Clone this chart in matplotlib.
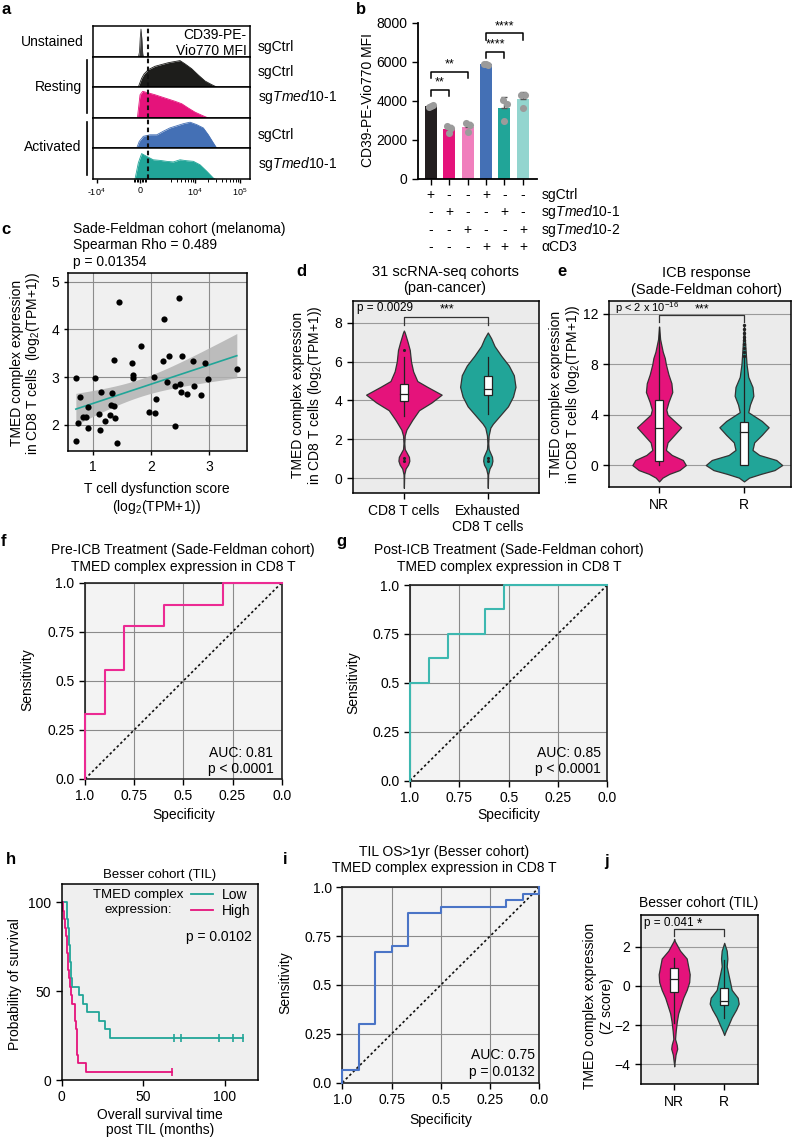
import numpy as np
import matplotlib
matplotlib.use('Agg')
import matplotlib.pyplot as plt
from matplotlib.lines import Line2D
from matplotlib.patches import Rectangle

plt.rcParams['font.family'] = ['Liberation Sans', 'DejaVu Sans']
plt.rcParams['font.size'] = 10
plt.rcParams['mathtext.fontset'] = 'custom'
plt.rcParams['mathtext.rm'] = 'Liberation Sans'
plt.rcParams['mathtext.it'] = 'Liberation Sans:italic'
plt.rcParams['mathtext.bf'] = 'Liberation Sans:bold'
plt.rcParams['axes.linewidth'] = 1.0
plt.rcParams['xtick.major.size'] = 3
plt.rcParams['ytick.major.size'] = 3
plt.rcParams['xtick.major.width'] = 1.0
plt.rcParams['ytick.major.width'] = 1.0

# ---------------- data ----------------
# a: flow histograms (channel units 0-1000, normalised height)
unst_x = [290, 297, 302, 307, 312, 318, 322]
unst_y = [0.0, 0.15, 0.6, 0.9, 0.6, 0.1, 0.0]
rest_ctrl_x = [290, 311, 326, 354, 396, 438, 481, 523, 555, 587, 629, 671, 714, 756, 788]
rest_ctrl_y = [0.0, 0.29, 0.43, 0.58, 0.69, 0.75, 0.81, 0.85, 0.88, 0.77, 0.61, 0.40, 0.20, 0.08, 0.0]
rest_tmed_x = [284, 301, 318, 354, 396, 438, 481, 523, 566, 608, 650, 693, 735]
rest_tmed_y = [0.0, 0.75, 0.86, 0.81, 0.75, 0.68, 0.61, 0.54, 0.46, 0.32, 0.19, 0.09, 0.0]
act_ctrl_x = [280, 296, 322, 364, 407, 449, 491, 534, 576, 619, 661, 703, 735, 767, 788]
act_ctrl_y = [0.0, 0.22, 0.39, 0.44, 0.44, 0.56, 0.67, 0.74, 0.81, 0.86, 0.78, 0.67, 0.44, 0.17, 0.0]
act_tmed_x = [269, 290, 311, 343, 385, 428, 470, 512, 555, 597, 640, 682, 725, 767, 778]
act_tmed_y = [0.0, 0.52, 0.82, 0.73, 0.62, 0.60, 0.57, 0.55, 0.62, 0.59, 0.57, 0.46, 0.25, 0.03, 0.0]
a_left = ['Unstained', 'Resting', 'Activated']
a_right = ['sgCtrl', 'sgCtrl', r'sg$\mathit{Tmed10}$-1', 'sgCtrl', r'sg$\mathit{Tmed10}$-1']
a_ticks = [25, 301, 650, 936]
a_ticklabels = ['-10$^4$', '0', '10$^4$', '10$^5$']
a_gate = 350

# b: CD39 MFI bars
b_points = [[3700, 3790, 3740], [2710, 2630, 2370], [2850, 2760, 2420],
            [5900, 5830, 5870], [4040, 3840, 2990], [4300, 4300, 3620]]
b_rows = ['sgCtrl', r'sg$\mathit{Tmed10}$-1', r'sg$\mathit{Tmed10}$-2', 'αCD3']
b_signs = [['+', '-', '-', '+', '-', '-'],
           ['-', '+', '-', '-', '+', '-'],
           ['-', '-', '+', '-', '-', '+'],
           ['-', '-', '-', '+', '+', '+']]
b_sig = [(0, 1, 4550, '**'), (0, 2, 5500, '**'), (3, 4, 6520, '****'), (3, 5, 7460, '****')]

# c: scatter
c_x = [0.71, 0.72, 0.75, 0.78, 0.84, 0.89, 0.92, 0.92, 1.04, 1.11, 1.13, 1.15, 1.22, 1.30,
       1.32, 1.34, 1.37, 1.37, 1.39, 1.42, 1.45, 1.68, 1.69, 1.69, 1.83, 1.97, 2.05, 2.07,
       2.09, 2.22, 2.21, 2.28, 2.32, 2.41, 2.42, 2.48, 2.50, 2.52, 2.53, 2.63, 2.72, 2.75,
       2.87, 2.93, 2.98, 3.48]
c_y = [2.98, 1.66, 2.03, 2.59, 2.17, 2.16, 2.37, 1.94, 2.98, 2.23, 1.90, 2.68, 2.08, 2.20,
       2.41, 2.66, 2.40, 3.36, 2.14, 1.63, 4.58, 3.29, 3.05, 2.98, 3.65, 2.27, 3.01, 2.26,
       2.54, 4.21, 3.35, 2.89, 3.44, 2.81, 1.98, 4.65, 2.85, 2.70, 3.45, 2.64, 3.33, 2.81,
       2.63, 3.30, 2.96, 3.17]

# d: violins (y, half-width), box stats (lo, q1, med, q3, hi)
d_cats = ['CD8 T cells', 'Exhausted\nCD8 T cells']
d_pink_y = [-0.5, 0.2, 0.5, 0.7, 0.9, 1.1, 1.3, 1.5, 1.8, 2.2, 2.5, 3.0, 3.5, 3.9, 4.3, 4.7, 5.0, 5.5, 6.0, 6.6, 7.0, 7.5, 7.6]
d_pink_w = [0.0, 0.004, 0.02, 0.05, 0.065, 0.06, 0.035, 0.01, 0.005, 0.01, 0.03, 0.1, 0.18, 0.33, 0.45, 0.28, 0.16, 0.11, 0.085, 0.07, 0.045, 0.01, 0.0]
d_teal_y = [-0.5, 0.2, 0.5, 0.7, 0.9, 1.1, 1.3, 1.5, 1.8, 2.2, 2.6, 2.8, 3.2, 3.7, 4.2, 4.7, 5.3, 5.8, 6.3, 6.8, 7.2, 7.5]
d_teal_w = [0.0, 0.004, 0.02, 0.045, 0.055, 0.05, 0.03, 0.01, 0.005, 0.01, 0.03, 0.06, 0.14, 0.24, 0.30, 0.33, 0.31, 0.25, 0.16, 0.08, 0.04, 0.0]
d_box = [(3.22, 3.95, 4.31, 4.87, 6.26), (3.3, 4.26, 4.57, 5.27, 6.26)]
d_out = [[6.6, 0.9, 1.05], [0.9, 1.05]]

# e
e_cats = ['NR', 'R']
e_pink_y = [-1.3, -1.0, -0.7, -0.4, 0.0, 0.4, 0.8, 1.2, 1.8, 2.4, 3.0, 3.5, 4.0, 4.4, 5.0, 5.8, 6.5, 7.2, 8.0, 8.5, 9.0, 10.0, 11.0]
e_pink_w = [0.0, 0.04, 0.12, 0.24, 0.315, 0.28, 0.15, 0.08, 0.10, 0.18, 0.26, 0.18, 0.10, 0.085, 0.11, 0.155, 0.145, 0.11, 0.08, 0.067, 0.043, 0.012, 0.0]
e_teal_y = [-1.3, -1.0, -0.7, -0.4, 0.0, 0.4, 0.8, 1.2, 1.8, 2.4, 3.0, 3.5, 4.2, 4.8, 5.5, 6.2, 7.0, 8.0, 9.0, 10.0, 11.0]
e_teal_w = [0.0, 0.06, 0.2, 0.36, 0.45, 0.38, 0.18, 0.1, 0.12, 0.21, 0.29, 0.21, 0.05, 0.07, 0.11, 0.10, 0.05, 0.03, 0.02, 0.01, 0.0]
e_box = [(0.0, 0.3, 2.97, 5.2, 11.0), (0.0, 0.0, 2.65, 3.42, 8.5)]
e_out = [[], [8.7, 9.0, 9.3, 9.6, 9.9, 10.2, 10.5, 10.8, 11.1]]

# f, g, i: ROC curves (specificity, sensitivity)
f_spec = [1.0, 1.0, 0.9, 0.9, 0.8, 0.8, 0.6, 0.6, 0.3, 0.3, 0.0]
f_sens = [0.0, 3/9, 3/9, 5/9, 5/9, 7/9, 7/9, 8/9, 8/9, 1.0, 1.0]
g_spec = [1.0, 1.0, 19/21, 19/21, 17/21, 17/21, 13/21, 13/21, 11/21, 11/21, 0.0]
g_sens = [0.0, 0.5, 0.5, 0.625, 0.625, 0.75, 0.75, 0.875, 0.875, 1.0, 1.0]
i_spec = [1.0, 1.0, 11/12, 11/12, 10/12, 10/12, 9/12, 9/12, 8/12, 8/12, 6/12, 6/12,
          2/12, 2/12, 1/12, 1/12, 0.0, 0.0]
i_sens = [0.0, 2/30, 2/30, 9/30, 9/30, 20/30, 20/30, 21/30, 21/30, 26/30, 26/30, 27/30,
          27/30, 28/30, 28/30, 29/30, 29/30, 1.0]
roc_ticks = [1.0, 0.75, 0.5, 0.25, 0.0]
roc_ticklabels = ['1.0', '0.75', '0.5', '0.25', '0.0']

# h: Kaplan-Meier (months)
h_low_events = [3.1, 3.5, 4.0, 4.3, 4.7, 5.0, 5.3, 5.6, 5.9, 6.1, 10.8, 13.3, 15.7, 22.9, 26.5, 29.6]
h_low_cens = [69, 73, 96, 105, 111]
h_high_events = [1.0, 1.5, 2.0, 2.5, 3.0, 3.3, 3.6, 4.0, 4.5, 5.0, 5.5, 6.5, 8.0, 8.3, 8.8,
                 9.2, 9.4, 9.6, 10.0, 15.0]
h_high_cens = [67.3]

# j
j_cats = ['NR', 'R']
j_pink_y = [-4.1, -4.0, -3.5, -3.2, -3.0, -2.7, -2.3, -1.8, -1.4, -1.0, -0.6, -0.2, 0.2, 0.6, 1.0, 1.4, 1.8, 2.3, 2.4]
j_pink_w = [0.0, 0.003, 0.027, 0.06, 0.05, 0.017, 0.03, 0.053, 0.08, 0.13, 0.18, 0.25, 0.30, 0.31, 0.28, 0.25, 0.117, 0.01, 0.0]
j_teal_y = [-2.5, -2.3, -2.0, -1.6, -1.2, -0.9, -0.6, -0.2, 0.2, 0.6, 1.0, 1.4, 1.8, 2.2]
j_teal_w = [0.0, 0.03, 0.083, 0.15, 0.24, 0.29, 0.27, 0.15, 0.117, 0.083, 0.05, 0.063, 0.05, 0.0]
j_box = [(-1.9, -0.32, 0.36, 0.9, 1.41), (-1.65, -0.99, -0.75, -0.12, 1.33)]

# ---------------- style ----------------
PINK = '#e5137b'
TEAL = '#21a598'
BLUE = '#4470b5'
W, H = 797, 1141
fig = plt.figure(figsize=(W / 100, H / 100), dpi=100)


def box(l, t, r, b):
    return fig.add_axes([l / W, 1 - b / H, (r - l) / W, (b - t) / H])


def ftext(x, y, s, **kw):
    kw.setdefault('va', 'center')
    return fig.text(x / W, 1 - y / H, s, **kw)


def fline(x0, y0, x1, y1, **kw):
    fig.add_artist(Line2D([x0 / W, x1 / W], [1 - y0 / H, 1 - y1 / H],
                          transform=fig.transFigure, **kw))


def letter(x, y, s):
    ftext(x, y, s, fontsize=12, fontweight='bold', ha='left')


# ---------------- panel a ----------------
letter(1, 9, 'a')
hists = [(unst_x, unst_y, '#3a3a3a'), (rest_ctrl_x, rest_ctrl_y, '#1d1d1b'),
         (rest_tmed_x, rest_tmed_y, PINK), (act_ctrl_x, act_ctrl_y, BLUE),
         (act_tmed_x, act_tmed_y, TEAL)]
bounds = [26, 57, 87, 118, 148, 179]
for k, (xs, ys, col) in enumerate(hists):
    ax = box(92.7, bounds[k], 250, bounds[k + 1])
    ax.fill_between(xs, 0, ys, color=col, lw=0)
    ax.plot(xs, ys, color=col, lw=0.6)
    ax.axvline(a_gate, color='#111111', ls=(0, (2.2, 1.6)), lw=1.5)
    ax.set_xlim(0, 1000)
    ax.set_ylim(0, 1)
    ax.set_yticks([])
    for sp in ax.spines.values():
        sp.set_linewidth(1.1)
    if k < 4:
        ax.set_xticks([])
    else:
        ax.set_xticks(a_ticks)
        ax.set_xticklabels(a_ticklabels, fontsize=6.5)
        minor = [262, 272, 282, 291, 311, 320, 330, 340]
        minor += [650 - 286 * (1 - np.log10(m)) for m in range(3, 10)]
        minor += [650 + 286 * np.log10(m) for m in range(2, 10)]
        ax.set_xticks(minor, minor=True)
        ax.tick_params(axis='x', which='minor', length=2, width=0.7)
        ax.tick_params(axis='x', which='major', length=3, pad=2)
ftext(246.7, 43, 'CD39-PE-\nVio770 MFI', ha='right', multialignment='right',
      linespacing=1.25)
ftext(83.3, 41.7, a_left[0], ha='right')
ftext(81.7, 86.7, a_left[1], ha='right')
ftext(81.7, 146.7, a_left[2], ha='right')
fline(87.3, 60, 87.3, 112.7, color='k', lw=1.2)
fline(87.3, 121.7, 87.3, 175, color='k', lw=1.2)
for lab, yy in zip(a_right, [46.7, 71.7, 96.7, 135, 164]):
    ftext(258, yy, lab, ha='left')

# ---------------- panel b ----------------
letter(356, 9, 'b')
ax = box(418, 22.7, 536.7, 179)
b_colors = ['#231f20', PINK, '#f07fbd', BLUE, TEAL, '#93d5cf']
b_jit = [[-0.12, 0.12, 0.0], [-0.1, 0.12, 0.0], [-0.08, 0.12, 0.0],
         [-0.1, 0.12, 0.0], [-0.1, 0.12, 0.0], [-0.12, 0.12, 0.0]]
means = [np.mean(p) for p in b_points]
sds = [np.std(p, ddof=1) for p in b_points]
xpos = np.arange(len(b_points))
ax.bar(xpos, means, width=0.65, color=b_colors, zorder=2)
ax.errorbar(xpos, means, yerr=[np.zeros(len(sds)), sds], fmt='none', ecolor='#555555',
            elinewidth=1, capsize=2.5, zorder=3)
for i, pts in enumerate(b_points):
    ax.scatter(i + np.array(b_jit[i]), pts, s=26, color='#9b9b9b', lw=0, zorder=4)
ax.set_xlim(-0.69, 5.75)
ax.set_ylim(0, 8000)
ax.set_yticks([0, 2000, 4000, 6000, 8000])
ax.set_xticks(xpos)
ax.set_xticklabels([])
ax.tick_params(axis='x', length=4)
ax.tick_params(axis='y', length=4, labelsize=10)
ax.spines['top'].set_visible(False)
ax.spines['right'].set_visible(False)
ax.spines['left'].set_linewidth(1.3)
ax.spines['bottom'].set_linewidth(1.3)
for i0, i1, yy, lab in b_sig:
    ax.plot([i0, i0, i1, i1], [yy - 320, yy, yy, yy - 320], color='k', lw=1.1, clip_on=False)
    ax.text((i0 + i1) / 2, yy + 60, lab, ha='center', va='bottom', fontsize=9)
row_px = [195, 212.3, 230, 247]
for r, yy in enumerate(row_px):
    yf = (179 - yy) / (179 - 22.7)
    for i in range(6):
        ax.text(i, yf, b_signs[r][i], transform=ax.get_xaxis_transform(),
                ha='center', va='center', fontsize=10)
    ax.text(6.0, yf, b_rows[r], transform=ax.get_xaxis_transform(),
            ha='left', va='center', fontsize=10)
ftext(368, 100, 'CD39-PE-Vio770 MFI', rotation=90, ha='center')

# ---------------- panel c ----------------
letter(1, 229, 'c')
ax = box(68.3, 272.7, 246.7, 450.7)
ax.set_facecolor('#f0f0f0')
cx = np.array(c_x)
cy = np.array(c_y)
slope, icpt = np.polyfit(cx, cy, 1)
xs = np.linspace(cx.min(), cx.max(), 100)
fit = slope * xs + icpt
resid = cy - (slope * cx + icpt)
s_err = np.sqrt(np.sum(resid ** 2) / (len(cx) - 2))
se = s_err * np.sqrt(1 / len(cx) + (xs - cx.mean()) ** 2 / np.sum((cx - cx.mean()) ** 2))
ax.fill_between(xs, fit - 2.01 * se, fit + 2.01 * se, color='#b3b3b3', alpha=0.85, lw=0, zorder=2)
ax.plot(xs, fit, color=TEAL, lw=1.2, zorder=3)
ax.scatter(cx, cy, s=20, color='k', lw=0, zorder=4)
ax.set_xlim(0.58, 3.65)
ax.set_ylim(1.46, 5.19)
ax.set_xticks([1, 2, 3])
ax.set_yticks([2, 3, 4, 5])
ax.grid(True, color='#8c8c8c', lw=0.8)
ax.set_axisbelow(True)
for sp in ax.spines.values():
    sp.set_linewidth(1.1)
ftext(72.7, 229, 'Sade-Feldman cohort (melanoma)', ha='left')
ftext(72.7, 245, 'Spearman Rho = 0.489', ha='left')
ftext(72.7, 261.7, 'p = 0.01354', ha='left')
ftext(16.7, 363, 'TMED complex expression', rotation=90, ha='center')
ftext(33.3, 363, 'in CD8 T cells  (log$_2$(TPM+1))', rotation=90, ha='center')
ftext(156.7, 489.3, 'T cell dysfunction score', ha='center')
ftext(156.7, 506.7, '(log$_2$(TPM+1))', ha='center')


# ---------------- violin helpers ----------------
def violin(ax, pos, ys, ws, color):
    ys = np.array(ys)
    ws = np.array(ws)
    ax.fill_betweenx(ys, pos - ws, pos + ws, facecolor=color, edgecolor='#333333',
                     lw=0.9, zorder=2)


def boxstat(ax, pos, st, width):
    lo, q1, med, q3, hi = st
    ax.plot([pos, pos], [lo, q1], color='#222222', lw=0.9, zorder=3)
    ax.plot([pos, pos], [q3, hi], color='#222222', lw=0.9, zorder=3)
    ax.add_patch(Rectangle((pos - width / 2, q1), width, q3 - q1, fc='white', ec='#222222',
                           lw=0.9, zorder=4))
    ax.plot([pos - width / 2, pos + width / 2], [med, med], color='#222222', lw=0.9, zorder=5)


def violin_axes(ax, cats, ylim, yticks):
    ax.set_facecolor('#ebebeb')
    ax.set_xticks(range(len(cats)))
    ax.set_xticklabels(cats)
    ax.set_ylim(*ylim)
    ax.set_yticks(yticks)
    ax.yaxis.grid(True, color='#9a9a9a', lw=0.8)
    ax.set_axisbelow(True)
    ax.tick_params(axis='x', length=4, pad=4)
    ax.tick_params(axis='y', length=4)
    for sp in ax.spines.values():
        sp.set_linewidth(1.1)


def bracket(ax, x0, x1, ytop, ylow):
    ax.plot([x0, x0, x1, x1], [ylow, ytop, ytop, ylow], color='#333333', lw=0.9, zorder=6)


# ---------------- panel d ----------------
letter(296, 271.7, 'd')
ax = box(352.7, 301, 539, 493)
violin_axes(ax, d_cats, (-0.76, 9.12), [0, 2, 4, 6, 8])
ax.set_xlim(-0.61, 1.61)
violin(ax, 0, d_pink_y, d_pink_w, PINK)
violin(ax, 1, d_teal_y, d_teal_w, TEAL)
for p in range(2):
    boxstat(ax, p, d_box[p], 0.1)
    ax.scatter([p] * len(d_out[p]), d_out[p], s=5, color='#222222', lw=0, zorder=6)
bracket(ax, 0, 1, 8.3, 7.9)
ftext(357, 308, 'p = 0.0029', ha='left', fontsize=8.5)
ftext(447, 309, '***', ha='center', fontsize=9)
ftext(445, 272, '31 scRNA-seq cohorts', ha='center', fontsize=10.5)
ftext(445, 288.3, '(pan-cancer)', ha='center', fontsize=10.5)
ftext(298.3, 395, 'TMED complex expression', rotation=90, ha='center')
ftext(315, 395, 'in CD8 T cells (log$_2$(TPM+1))', rotation=90, ha='center')

# ---------------- panel e ----------------
letter(557, 272, 'e')
ax = box(609, 301, 790.7, 486.7)
violin_axes(ax, e_cats, (-1.72, 13.03), [0, 4, 8, 12])
ax.set_xlim(-0.59, 1.55)
violin(ax, 0, e_pink_y, e_pink_w, PINK)
violin(ax, 1, e_teal_y, e_teal_w, TEAL)
for p in range(2):
    boxstat(ax, p, e_box[p], 0.1)
    if e_out[p]:
        ax.scatter([p] * len(e_out[p]), e_out[p], s=6, color='#222222', lw=0, zorder=6)
bracket(ax, 0, 1, 11.9, 11.4)
ftext(615, 308, 'p < 2 x 10$^{-16}$', ha='left', fontsize=8)
ftext(701.7, 309, '***', ha='center', fontsize=9)
ftext(706.7, 273, 'ICB response', ha='center', fontsize=10.5)
ftext(706.7, 290, '(Sade-Feldman cohort)', ha='center', fontsize=10.5)
ftext(556, 394, 'TMED complex expression', rotation=90, ha='center')
ftext(572.5, 394, 'in CD8 T cells (log$_2$(TPM+1))', rotation=90, ha='center')


# ---------------- ROC helper ----------------
def roc(ax, spec, sens, color):
    ax.set_facecolor('#f3f3f3')
    ax.plot(spec, sens, color=color, lw=1.5, zorder=4, clip_on=False)
    ax.plot([1, 0], [0, 1], color='#111111', ls=(0, (1.5, 1.5)), lw=1.2, zorder=3)
    ax.set_xlim(1, 0)
    ax.set_ylim(0, 1)
    ax.set_xticks(roc_ticks)
    ax.set_xticklabels(roc_ticklabels)
    ax.set_yticks(roc_ticks)
    ax.set_yticklabels(roc_ticklabels)
    ax.grid(True, color='#8a8a8a', lw=0.8)
    ax.set_axisbelow(True)
    ax.tick_params(length=4)
    for sp in ax.spines.values():
        sp.set_linewidth(1.2)
        sp.set_color('#222222')


# ---------------- panel f ----------------
letter(1, 541.7, 'f')
ax = box(85, 582.7, 281.7, 779)
roc(ax, f_spec, f_sens, '#ec2a93')
ftext(183.3, 550, 'Pre-ICB Treatment (Sade-Feldman cohort)', ha='center')
ftext(183.3, 566.7, 'TMED complex expression in CD8 T', ha='center')
ftext(27, 680, 'Sensitivity', rotation=90, ha='center')
ftext(183.3, 815, 'Specificity', ha='center')
ftext(273.3, 752.7, 'AUC: 0.81', ha='right')
ftext(273.3, 769, 'p < 0.0001', ha='right')

# ---------------- panel g ----------------
letter(336, 541.7, 'g')
ax = box(410, 585, 607.3, 780.5)
roc(ax, g_spec, g_sens, '#3db8b0')
ftext(509, 550, 'Post-ICB Treatment (Sade-Feldman cohort)', ha='center')
ftext(509, 566.7, 'TMED complex expression in CD8 T', ha='center')
ftext(353, 683, 'Sensitivity', rotation=90, ha='center')
ftext(508.7, 815, 'Specificity', ha='center')
ftext(600.7, 753.3, 'AUC: 0.85', ha='right')
ftext(600.7, 769.5, 'p < 0.0001', ha='right')


# ---------------- panel h ----------------
def km_curve(events, censored):
    n = len(events) + len(censored)
    at_risk = n
    surv = 100.0
    t = [0.0]
    s = [100.0]
    marks = []
    for time, ev in sorted([(e, 1) for e in events] + [(c, 0) for c in censored]):
        if ev:
            surv *= (at_risk - 1) / at_risk
            t.append(time)
            s.append(surv)
        else:
            marks.append((time, surv))
        at_risk -= 1
    t.append(max(events + censored))
    s.append(surv)
    return t, s, marks


letter(6, 860, 'h')
ax = box(61.7, 884, 257.7, 1080)
ax.set_facecolor('#efefef')
for ev, ce, col, lab in [(h_low_events, h_low_cens, TEAL, 'Low'),
                         (h_high_events, h_high_cens, PINK, 'High')]:
    t, s, marks = km_curve(ev, ce)
    ax.plot(t, s, drawstyle='steps-post', color=col, lw=1.3, label=lab)
    if marks:
        ax.plot([m[0] for m in marks], [m[1] for m in marks], ls='none', marker='|',
                ms=6, mew=1.2, color=col)
ax.set_xlim(0, 120)
ax.set_ylim(0, 110.3)
ax.set_xticks([0, 50, 100])
ax.set_yticks([0, 50, 100])
ax.tick_params(length=4)
for sp in ax.spines.values():
    sp.set_linewidth(1.1)
ax.legend(loc='upper left', bbox_to_anchor=((191 - 61.7) / 196, 1 - (888 - 884) / 196),
          frameon=False, handlelength=1.6, handletextpad=0.6, labelspacing=0.15,
          borderaxespad=0, borderpad=0, fontsize=10)
ftext(138, 895, 'TMED complex', ha='center', fontsize=9.5)
ftext(138, 910, 'expression:', ha='center', fontsize=9.5)
ftext(252.3, 936.7, 'p = 0.0102', ha='right')
ftext(160, 875, 'Besser cohort (TIL)', ha='center', fontsize=9.5)
ftext(15, 984, 'Probability of survival', rotation=90, ha='center')
ftext(160, 1115, 'Overall survival time', ha='center')
ftext(160, 1130, 'post TIL (months)', ha='center')

# ---------------- panel i ----------------
letter(283, 860, 'i')
ax = box(342.3, 887.3, 539.3, 1082.7)
roc(ax, i_spec, i_sens, '#4a74c6')
ftext(444, 851.7, 'TIL OS>1yr (Besser cohort)', ha='center')
ftext(444, 868.3, 'TMED complex expression in CD8 T', ha='center')
ftext(285, 983, 'Sensitivity', rotation=90, ha='center')
ftext(440.7, 1120, 'Specificity', ha='center')
ftext(535, 1055, 'AUC: 0.75', ha='right')
ftext(535, 1071.7, 'p = 0.0132', ha='right')

# ---------------- panel j ----------------
letter(604, 861.7, 'j')
ax = box(640.7, 915, 757.7, 1084)
violin_axes(ax, j_cats, (-5.0, 3.62), [-4, -2, 0, 2])
ax.set_xlim(-0.67, 1.67)
violin(ax, 0, j_pink_y, j_pink_w, PINK)
violin(ax, 1, j_teal_y, j_teal_w, TEAL)
for p in range(2):
    boxstat(ax, p, j_box[p], 0.15)
bracket(ax, 0, 1, 2.9, 2.55)
ftext(644.3, 923.3, 'p = 0.041', ha='left', fontsize=8.5)
ftext(699.3, 924, '*', ha='center', fontsize=10)
ftext(699, 902.7, 'Besser cohort (TIL)', ha='center')
ftext(590, 1006, 'TMED complex expression', rotation=90, ha='center')
ftext(607, 1006, '(Z score)', rotation=90, ha='center')

fig.savefig('out.png', dpi=100)
